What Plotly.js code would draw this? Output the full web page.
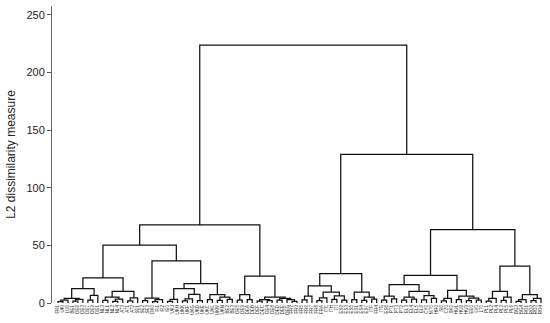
<!DOCTYPE html>
<html>
<head>
<meta charset="utf-8">
<script src="https://cdn.plot.ly/plotly-3.0.1.min.js"></script>
<style>html,body{margin:0;padding:0;background:#fff;}#chart{width:550px;height:323px;}</style>
</head>
<body>
<div id="chart"></div>
<script>
// Dendrogram data: node = [mergeHeight, left, right]; leaf = region label
const A1a  = [12.5, [4.0, [2.6, [1.2, 'FR1', 'UKI'], 'LU0'], [3.1, [1.6, 'BE1', 'DE6'], 'DE3']], [6.7, [2.4, 'DE7', 'DE2'], 'DE1']];
const A1b  = [10.0, [5.0, [2.2, 'NL3', 'NL1'], [3.4, [1.5, 'NL2', 'NL4'], 'AT3']], [4.5, [1.9, 'AT1', 'AT2'], 'SE1']];
const A2a  = [4.3, [2.0, 'SE2', 'SE3'], [3.0, [1.3, 'DK0', 'FI1'], 'FI2']];
const A2bL = [12.5, [3.2, [1.4, 'IE0', 'UKJ'], 'UKH'], [7.5, [3.6, [1.8, 'UKK', 'UKF'], 'UKG'], [2.1, 'UKD', 'UKE']]];
const A2bR = [7.3, [3.0, 'UKC', 'UKL'], [5.0, [2.3, 'UKM', 'UKN'], [3.2, 'BE2', 'BE3']]];
const BL   = [7.3, [2.5, 'DE5', 'DE9'], [3.0, 'DEA', 'DEB']];
const BR   = [5.2, [3.0, [1.6, 'DEF', 'DEC'], [2.0, 'DE4', 'DE8']], [4.0, [2.6, 'DED', 'DEE'], [2.9, 'DEG', [1.4, 'FR2', 'FR3']]]];
const R1L  = [14.8, [6.0, [2.8, 'FR5', 'FR6'], 'FR7'], [9.5, [4.5, [2.0, 'FR8', 'FRA'], 'ITC'], [6.2, [3.1, 'ITH', 'ITI'], [2.4, 'ES2', 'ES3']]]];
const R1R  = [9.5, [3.0, 'ES5', 'ES1'], [5.0, [2.2, 'ES4', 'ES7'], [3.4, 'ITF', 'FR4']]];
const R2aL = [16.0, [6.0, [2.5, 'ITG', 'ES6'], [3.6, 'PT1', 'PT3']], [10.0, [5.2, [2.4, 'PT2', 'EL3'], [3.3, 'EL4', 'EL5']], [6.5, [2.8, 'EL6', 'CY0'], [4.1, 'MT0', 'HR0']]]];
const R2aR = [11.0, [4.0, [1.8, 'SI0', 'CZ0'], 'SK0'], [6.0, [3.0, 'HU1', 'HU2'], [4.2, [2.0, 'HU3', 'EE0'], [2.6, 'LV0', 'LT0']]]];
const R2bL = [10.0, [4.0, [1.7, 'PL1', 'PL2'], 'PL4'], [5.0, [2.3, 'PL3', 'PL5'], 'PL6']];
const R2bR = [7.3, [3.0, [1.5, 'BG3', 'BG4'], 'RO1'], [4.0, [2.0, 'RO2', 'RO3'], 'RO4']];

// Upper merges
const upperHeights = {A1: 21.7, A2b: 16.8, A2: 36.5, A: 50.3, B: 23.4, L: 67.7,
                      R1: 25.5, R2a: 24.0, R2b: 32.0, R2: 63.7, R: 129.0, root: 223.7};
const H = upperHeights;
const tree = [H.root,
  [H.L, [H.A, [H.A1, A1a, A1b], [H.A2, A2a, [H.A2b, A2bL, A2bR]]], [H.B, BL, BR]],
  [H.R, [H.R1, R1L, R1R], [H.R2, [H.R2a, R2aL, R2aR], [H.R2b, R2bL, R2bR]]]
];

const yTicks = [0, 50, 100, 150, 200, 250];

// layout the tree
const leafLabels = [];
const xs = [], ys = [];
function place(node) {
  if (typeof node === 'string') {
    leafLabels.push(node);
    return {x: leafLabels.length - 1, h: 0};
  }
  const l = place(node[1]);
  const r = place(node[2]);
  xs.push(l.x, l.x, r.x, r.x, null);
  ys.push(l.h, node[0], node[0], r.h, null);
  return {x: (l.x + r.x) / 2, h: node[0]};
}
place(tree);
const tickPos = leafLabels.map((_, i) => i);

const trace = {
  x: xs, y: ys, type: 'scatter', mode: 'lines',
  line: {color: '#111', width: 1.25},
  hoverinfo: 'skip', showlegend: false
};

const layout = {
  width: 550, height: 323,
  margin: {l: 52, r: 4, t: 6, b: 20},
  paper_bgcolor: '#fff', plot_bgcolor: '#fff',
  font: {family: 'Liberation Sans, Arial, sans-serif', color: '#222'},
  xaxis: {
    range: [-1.205, 98.0], tickmode: 'array', tickvals: tickPos, ticktext: leafLabels,
    tickangle: -90, tickfont: {size: 4.5, color: '#333'}, showgrid: false, zeroline: false,
    showline: false, ticks: '', fixedrange: true
  },
  yaxis: {
    range: [0, 257.7], tickmode: 'array', tickvals: yTicks, ticktext: yTicks.map(String),
    ticks: 'outside', ticklen: 4, tickcolor: '#555', tickwidth: 1,
    showline: true, linecolor: '#666', linewidth: 1,
    showgrid: false, zeroline: false, tickfont: {size: 11, color: '#222'},
    title: {text: 'L2 dissimilarity measure', font: {size: 12, color: '#222'}, standoff: 8}
  }
};

Plotly.newPlot('chart', [trace], layout, {displayModeBar: false, staticPlot: true});
</script>
</body>
</html>
